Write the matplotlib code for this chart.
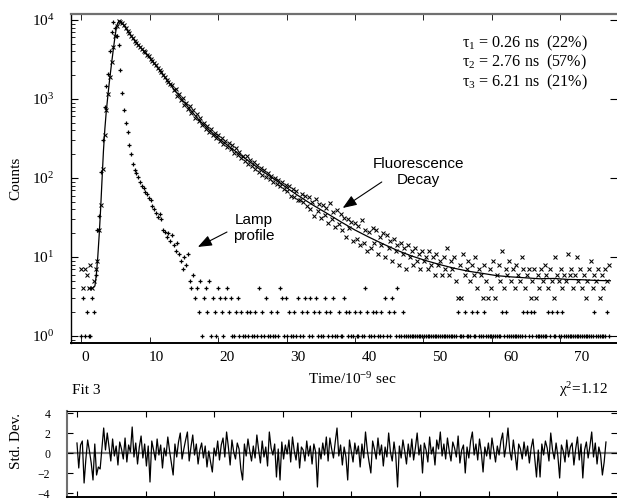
import numpy as np
import matplotlib
matplotlib.use("Agg")
import matplotlib.pyplot as plt

plt.rcParams["font.family"] = ["Liberation Serif", "DejaVu Serif"]
plt.rcParams["mathtext.fontset"] = "custom"
plt.rcParams["mathtext.rm"] = "Liberation Serif"
plt.rcParams["mathtext.it"] = "Liberation Serif:italic"

# channel grid (ns): first channel and spacing
T_START = -0.5
DT = 0.25

# fluorescence decay counts, one per channel
decay_counts = [
    7, 4, 7, 6, 4, 8, 4, 5, 7,
    9, 22, 45, 130, 350, 720, 1150, 1900, 2900, 4500, 6200, 8400, 9600,
    9500, 9100, 8600, 7900, 7200, 6900, 6200, 5900, 5450, 5100, 4800, 4500,
    4350, 4080, 3900, 3620, 3450, 3180, 3050, 2820, 2700, 2480, 2330, 2210,
    2000, 1900, 1760, 1640, 1560,
    1520, 1290, 1330, 1090, 1160, 960, 1040, 850,
    900, 740, 810, 660, 720, 580, 640, 520,
    570, 470, 500, 420, 460, 380, 420, 350,
    370, 320, 355, 290, 325, 270, 295, 245,
    275, 230, 262, 210, 240, 195, 215, 180,
    190, 165, 188, 150, 170, 140, 158, 130,
    148, 120, 135, 108, 128, 104, 116, 96,
    105, 88, 100, 83, 95, 78, 88, 72,
    82, 68, 78, 60, 73, 57, 68, 52,
    52, 62, 50,
    60, 44, 57, 40, 50, 33, 54, 38, 47, 31, 46, 34, 42, 27, 48, 30, 37, 24, 39, 26,
    35, 22, 31, 18, 30, 23, 28, 16, 27, 17, 25, 14, 29, 15, 22, 12, 21, 13, 23, 15,
    22, 11, 18, 14, 20, 10, 19, 13, 16, 9, 17, 12, 14, 8, 15, 11, 13, 7, 14, 10,
    12, 8, 13, 9, 11, 7, 12, 9, 10, 7, 12, 8, 10, 6, 11, 8, 9, 6, 10, 7,
    13, 6, 9, 7, 10, 5, 3, 8, 3, 11, 6, 7, 9, 5, 8, 6, 10, 4, 7, 6,
    3, 8, 5, 3, 7, 4, 9, 3, 6, 8, 5, 12, 4, 7, 6, 9, 5, 7, 4, 8,
    6, 5, 10, 7, 4, 6, 7, 3, 5, 7, 3, 6, 4, 7, 5, 8, 6, 4, 7, 5,
    3, 10, 6, 5, 7, 4, 6, 5, 11, 6, 7, 4, 6, 10, 5, 7, 4, 6, 3, 5,
    7, 9, 4, 6, 5, 7, 3, 6, 4, 7, 5, 8,
]

# lamp profile counts, one per channel
lamp_counts = [
    1, 3, 1, 2, 1, 1, 3, 2, 6,
    22, 33, 120, 300, 800, 1450, 2100, 4000, 7000, 9400,
    8000, 6300, 4800, 2300, 1200, 720, 500, 380, 265, 200,
    150, 128, 115, 102, 90,
    80, 74, 66, 62, 56, 52, 44, 40, 36, 32, 35, 30, 22, 21, 18, 20,
    16, 19, 14, 12, 15, 11, 9, 7, 10, 8, 11, 5, 4, 6, 3, 4,
    2, 5, 1, 3, 4, 2, 5, 1, 3, 2, 1, 4, 3, 2, 1, 3, 4, 2, 3, 1,
    1, 2, 3, 1, 2, 1, 1, 2, 1, 2, 1, 1, 2, 1, 4, 1, 2, 1, 3, 1,
    1, 2, 1, 1, 2, 1, 4, 3, 1, 3, 1, 2, 1, 1, 2, 1, 3, 1, 2, 1,
    3, 2, 1, 3, 1, 2, 3, 1, 2, 1, 1, 3, 2, 1, 2, 1, 3, 1, 1, 2,
    1, 1, 3, 2, 1, 2, 1, 1, 2, 1, 1, 2, 1, 1, 4, 2, 1, 1, 2, 1,
    2, 1, 1, 2, 1, 3, 1, 2, 1, 3, 2, 1, 4, 1, 1, 2, 1, 1, 1, 1,
    1, 1, 1, 1, 1, 1, 1, 1, 1, 1, 1, 1, 1, 1, 1, 1, 1, 1, 1, 1,
    1, 1, 1, 1, 1, 1, 2, 1, 1, 1, 2, 1, 1, 1, 2, 1, 1, 2, 1, 1,
    1, 2, 1, 1, 1, 1, 1, 1, 1, 1, 1, 2, 1, 2, 1, 1, 1, 1, 1, 1,
    1, 1, 1, 2, 1, 2, 1, 2, 1, 2, 1, 1, 1, 1, 1, 1, 1, 2, 1, 2,
    1, 1, 2, 1, 1, 2, 1, 1, 1, 1, 1, 1, 1, 1, 1, 1, 1, 1, 1, 1,
    1, 1, 1, 2, 1, 1, 1, 1, 1, 1, 2, 1,
]

# fitted curve (3-exponential fit)
fit_time = [0.6, 1.0, 1.4, 1.6, 1.8, 2.0, 2.2, 2.4, 2.6, 2.8, 3.0, 3.2, 3.4,
            3.6, 3.8, 4.0, 4.2, 4.4, 4.6, 4.8, 5.0, 5.2, 5.5, 6.0, 6.5, 7.0,
            7.5, 8, 9, 10, 11, 12, 13, 14, 15, 16, 17, 18, 19, 20, 21, 22,
            23, 24, 25, 26, 27, 28, 29, 30, 32, 34, 36, 38, 40, 42, 44, 46,
            48, 50, 52, 54, 56, 58, 60, 62, 64, 66, 68, 70, 72, 74]
fit_counts = [4.0, 4.0, 4.3, 6.0, 10, 19, 40, 95, 220, 420, 700, 1050, 1550,
              2200, 3100, 4300, 5900, 7800, 9100, 9700, 9600, 9200, 8500,
              7300, 6300, 5500, 4850, 4300, 3400, 2650, 2020, 1530, 1170,
              900, 700, 550, 445, 368, 308, 262, 224, 192, 165, 142, 122,
              106, 92, 80, 69, 60, 46, 36, 28, 22, 17.8, 14.6, 12.1, 10.3,
              9.0, 8.0, 7.2, 6.6, 6.2, 5.8, 5.6, 5.45, 5.3, 5.35, 5.2, 5.15,
              5.05, 5.0]

# weighted residuals (std. dev.), one per channel
residuals = [
    1.0, -1.5, 0.8, 1.2, -3.0, -0.6, 1.3, 0.2, -1.0, -2.7, 0.9, -2.2, -1.4, -1.6, 0.5, 2.5, 0.3, 2.0, 0.6, -0.8,
    1.4, -0.3, 0.7, -1.2, 1.1, 0.4, -0.6, 1.5, -0.9, 0.8, 0.1, 2.6, -0.4, 1.0, -1.1, 0.6, 1.7, -0.5, 0.9, -1.3,
    0.7, -2.9, 1.2, 0.3, -0.7, 1.4, -0.2, 0.8, -1.5, 0.5, -0.3, 1.6, 0.2, -1.0, -2.2, 0.9, -0.4, 1.1, 2.0, -0.6,
    0.4, 1.3, 2.1, -0.8, 0.6, 1.8, -0.2, 0.9, -1.1, 0.3, 1.0, -0.5, 0.7, -1.4, 0.2, -0.9, -1.9, 0.5, -0.3, 1.2,
    -0.7, 0.8, 1.5, -0.4, 2.1, 0.6, -1.2, 1.3, 0.1, -0.6, 1.0, 0.4, -1.6, -2.7, 0.9, -0.3, 1.4, 0.2, -0.8, 0.7,
    -0.5, 1.8, 0.3, -1.0, 1.2, -0.4, 0.6, -1.3, 2.1, 0.5, -0.2, 0.9, -2.4, 0.4, -2.7, 1.1, -0.6, 0.8, -0.1, 1.3,
    -0.9, 1.6, 0.2, -0.7, 1.0, -1.5, 0.6, 0.3, -0.8, 1.2, -0.3, 0.7, -1.1, 0.9, 0.1, -3.4, 0.5, -0.6, 1.0, -0.2,
    1.6, -0.8, 1.5, 0.4, -0.5, 1.1, 2.5, -0.3, 0.8, -1.2, 0.6, -0.4, -2.7, 1.3, 0.2, -0.9, 1.0, -0.1, 0.7, -1.4,
    0.9, -0.5, 2.1, 0.3, -0.9, -2.0, 1.2, 0.4, -0.6, 1.5, -0.2, 0.8, -1.3, 0.6, -0.4, 2.0, 0.1, -0.8, 1.1, -0.3,
    -3.4, 0.7, -0.5, 1.3, 0.2, -1.1, 0.9, -0.4, 1.4, -0.7, 0.5, 2.0, -0.2, 0.8, -2.0, 1.0, 0.3, -0.9, 1.6, -0.1,
    0.6, -1.2, 1.3, 0.4, 2.1, -0.3, 0.9, -0.6, 1.5, 0.2, -0.8, 1.1, 0.5, -0.4, 1.7, -1.0, 0.3, 0.8, -2.0, 0.6,
    -0.5, 1.2, 2.1, -0.2, 0.9, -0.7, 1.4, 0.1, -1.9, 0.6, -0.3, 1.0, -0.6, 1.5, 0.3, -0.9, 0.7, -0.2, 1.2, 2.0,
    -0.4, 0.8, 2.5, 0.2, -0.7, 1.3, -0.1, -1.7, 0.9, 0.4, -0.6, 1.1, -0.3, 0.7, -1.0, 0.5, 1.4, -0.5, -2.4, 0.3,
    -2.4, 0.9, -0.2, 1.2, 0.5, -0.8, 2.0, 0.3, -0.6, 1.0, -0.3, -2.5, 0.8, 0.2, -0.9, 1.3, -0.4, 0.6, 1.0, -1.2,
    0.4, 1.6, -0.7, 0.9, -2.5, 0.3, 1.1, -0.5, 0.7, 2.1, -0.4, 1.0, -1.1, 0.6, -0.2, -2.2, -0.9, 1.1,
]

x_tick_labels = [0, 10, 20, 30, 40, 50, 60, 70]
tau_lines = ["τ$_1$ = 0.26 ns  (22%)",
             "τ$_2$ = 2.76 ns  (57%)",
             "τ$_3$ = 6.21 ns  (21%)"]
chi_text = "χ$^2$=1.12"
fit_name = "Fit 3"

# tick marks of the old plotting program sit a bit off the labels
TICK_MARKS = [-0.55, 9.15, 18.8, 28.45, 38.0, 47.65, 57.3, 66.9]

t_decay = T_START + DT * np.arange(len(decay_counts))
t_lamp = T_START + DT * np.arange(len(lamp_counts))
t_res = T_START + DT * np.arange(len(residuals))

W, H = 617, 500
fig = plt.figure(figsize=(W / 100, H / 100), dpi=100)
ax = fig.add_axes([71 / W, 1 - 343 / H, (W - 71) / W, (343 - 14) / H])
ax2 = fig.add_axes([67 / W, 1 - 497 / H, (W - 67) / W, (497 - 411) / H])

# main panel
ax.plot(t_decay, decay_counts, ls="none", marker="x", ms=2.6, mew=0.75, color="k")
ax.plot(t_lamp, lamp_counts, ls="none", marker="+", ms=3.4, mew=0.9, color="k")
ax.plot(fit_time, fit_counts, color="k", lw=0.9)

ax.set_yscale("log")
ax.set_ylim(0.815, 11900)
ax.set_xlim(-1.97, 74.93)
ax.set_yticks([1, 10, 100, 1000, 10000])
ax.set_xticks(x_tick_labels)
ax.set_xticklabels([str(v) for v in x_tick_labels])
ax.set_xticks(TICK_MARKS, minor=True)
ax.tick_params(axis="x", which="major", direction="in", length=0, pad=6, labelsize=11)
ax.tick_params(axis="x", which="minor", direction="in", length=4, top=True, bottom=True)
ax.tick_params(axis="y", which="major", direction="in", length=5, left=True, right=True,
               pad=12, labelsize=11)
ax.tick_params(axis="y", which="minor", direction="in", length=3, left=True, right=False)

ax.spines["right"].set_visible(False)
ax.spines["top"].set_color("#707070")
ax.spines["top"].set_linewidth(1.6)
ax.spines["bottom"].set_linewidth(1.4)
ax.spines["left"].set_linewidth(1.0)

arrow = dict(arrowstyle="-|>,head_length=0.85,head_width=0.33", color="k", lw=0.8,
             shrinkA=0, shrinkB=0)
ax.annotate("", xy=(15.9, 13.4), xytext=(20.0, 20.7), arrowprops=arrow)
ax.annotate("", xy=(36.3, 41.7), xytext=(41.8, 89), arrowprops=arrow)
ax.text(23.8, 23.3, "Lamp\nprofile", ha="center", va="center", fontsize=11,
        family="Liberation Sans", linespacing=1.15)
ax.text(47.0, 119, "Fluorescence\nDecay", ha="center", va="center", fontsize=11,
        family="Liberation Sans", linespacing=1.2)

for i, line in enumerate(tau_lines):
    fig.text(462 / W, 1 - (43 + 19.5 * i) / H, line, fontsize=11.6, va="center", ha="left")

fig.text(16 / W, 1 - 178 / H, "Counts", rotation=90, fontsize=11, ha="center", va="center")
fig.text(352 / W, 1 - 379 / H, "Time/10$^{-9}$ sec", fontsize=11, ha="center", va="center")
fig.text(72 / W, 1 - 390 / H, fit_name, fontsize=11, ha="left", va="center")
fig.text(608 / W, 1 - 390 / H, chi_text, fontsize=11, ha="right", va="center")
fig.text(16 / W, 1 - 441 / H, "Std. Dev.", rotation=90, fontsize=11, ha="center", va="center")

# residual panel
ax2.axhline(0, color="#808080", lw=1.6, zorder=1)
ax2.plot(t_res, residuals, color="k", lw=0.9, zorder=2)
ax2.set_xlim(-1.9, 75.3)
ax2.set_ylim(-4.4, 4.2)
ax2.set_yticks([-4, -2, 0, 2, 4])
ax2.set_xticks(TICK_MARKS)
ax2.set_xticklabels([])
ax2.tick_params(axis="x", direction="in", length=4, top=True, bottom=True)
ax2.tick_params(axis="y", direction="in", length=4, left=True, right=True, pad=12,
                labelsize=8.5)
ax2.spines["right"].set_visible(False)
ax2.spines["left"].set_color("#707070")
ax2.spines["left"].set_linewidth(1.5)
ax2.spines["bottom"].set_linewidth(1.4)

fig.savefig("out.png", dpi=100)
